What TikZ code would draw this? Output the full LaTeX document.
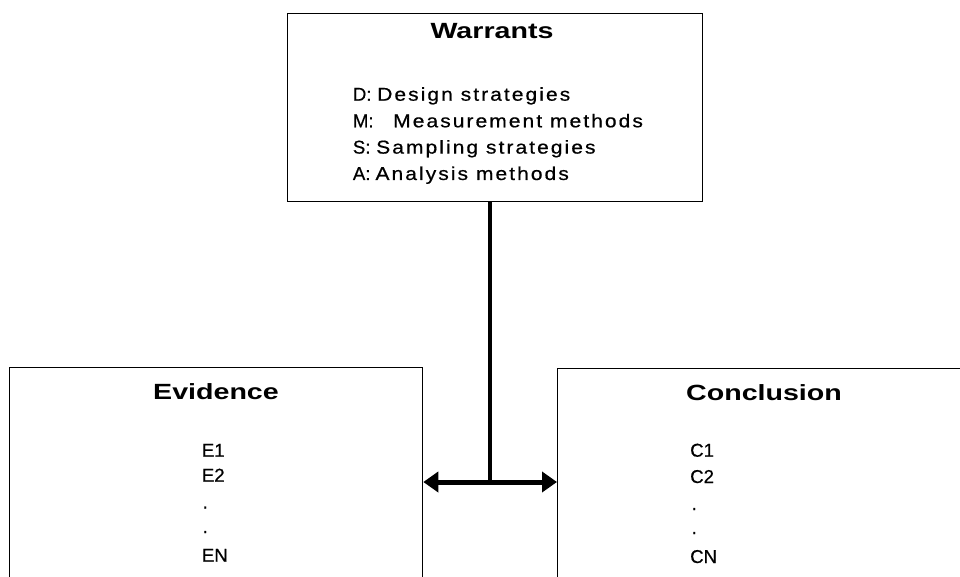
\documentclass[tikz,border=0pt]{standalone}
\usepackage{fontspec}
\newfontfamily\bodyfont[FakeStretch=1.13,LetterSpace=11,FakeBold=0.6]{Liberation Sans}
\newfontfamily\prefont[FakeBold=0.6]{Liberation Sans}
\newfontfamily\titlefont[FakeStretch=1.3]{Liberation Sans}
\usetikzlibrary{arrows.meta}
\begin{document}
\begin{tikzpicture}[x=1pt,y=-1pt,
  box/.style={draw, line width=1.3pt, inner sep=0, anchor=north west},
  body/.style={inner sep=0, anchor=base west, font=\bodyfont\fontsize{18.6}{22}\selectfont},
  item/.style={inner sep=0, anchor=base west, font=\prefont\fontsize{18.6}{22}\selectfont},
  title/.style={inner sep=0, anchor=base, font=\titlefont\bfseries\fontsize{22}{26}\selectfont},
  stem/.style={line width=4pt},
  conn/.style={line width=5pt, {Triangle[length=15pt,width=20pt]}-{Triangle[length=15pt,width=20pt]}}
]
\newcommand\pfx[2]{\makebox[#1][l]{\prefont #2}}
\useasboundingbox (0,0) rectangle (960,577);
\clip (0,0) rectangle (960,577);
% boxes
\node[box, minimum width=415pt, minimum height=188pt] (war) at (287,13) {};
\node[box, minimum width=413pt, minimum height=300pt] (ev) at (9,367) {};
\node[box, minimum width=500pt, minimum height=300pt] (con) at (557,368) {};
% warrants text
\node[title] (wt) at (492,38.3) {Warrants};
\node[body] (wd) at (352.7,100.7) {\pfx{24.3pt}{D:}Design strategies};
\node[body] (wm) at (352.7,127.3) {\pfx{40.3pt}{M:}Measurement methods};
\node[body] (ws) at (352.7,153.6) {\pfx{23.3pt}{S:}Sampling strategies};
\node[body] (wa) at (352.7,180) {\pfx{22.6pt}{A:}Analysis methods};
% evidence text
\node[title] (et) at (216,399.5) {Evidence};
\node[item] (e1) at (201.7,456.7) {E1};
\node[item] (e2) at (201.7,481.7) {E2};
\node[item] (ed1) at (202.5,508.5) {.};
\node[item] (ed2) at (202.5,533) {.};
\node[item] (en) at (201.7,561.7) {EN};
% conclusion text
\node[title] (ct) at (764,400.5) {Conclusion};
\node[item] (c1) at (690,456.7) {C1};
\node[item] (c2) at (690,483) {C2};
\node[item] (cd1) at (691.5,510) {.};
\node[item] (cd2) at (691.5,534) {.};
\node[item] (cn) at (690,563) {CN};
% connectors
\coordinate (j) at (490,482);
\draw[stem] (j |- war.south) -- (j);
\draw[conn] (ev.east |- j) -- (con.west |- j);
\end{tikzpicture}
\end{document}
